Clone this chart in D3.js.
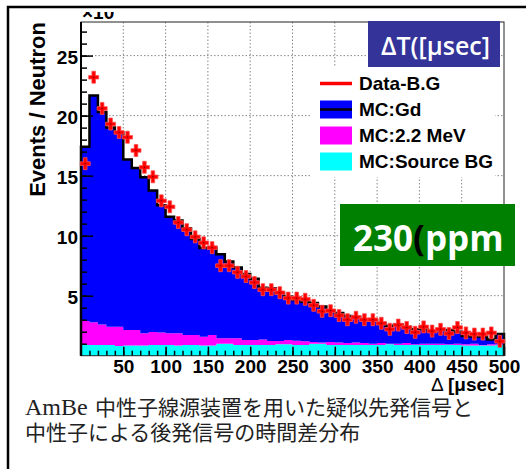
<!DOCTYPE html>
<html>
<head>
<meta charset="utf-8">
<script src="https://cdn.jsdelivr.net/npm/d3@7"></script>
<style>
  body { margin: 0; background: #fff; }
  svg { display: block; font-family: "Liberation Sans", Arial, sans-serif; }
</style>
</head>
<body>
<div id="chart"></div>
<script>
// bins of 10 usec, values in units of 10^-3 events / neutron
const binLow = [0, 10, 20, 30, 40, 50, 60, 70, 80, 90,
  100, 110, 120, 130, 140, 150, 160, 170, 180, 190,
  200, 210, 220, 230, 240, 250, 260, 270, 280, 290,
  300, 310, 320, 330, 340, 350, 360, 370, 380, 390,
  400, 410, 420, 430, 440, 450, 460, 470, 480, 490];
const binWidth = 10;

const dataBG = [16.0, 23.2, 20.6, 19.3, 18.6, 18.2, 17.1, 15.7, 14.9, 12.9,
  12.4, 11.1, 10.5, 9.9, 9.4, 9.0, 7.5, 7.5, 6.95, 6.6,
  6.1, 5.5, 5.5, 5.25, 4.8, 4.8, 4.7, 4.2, 3.7, 3.75,
  3.35, 3.0, 3.2, 3.0, 3.0, 2.7, 2.2, 2.55, 2.35, 1.95,
  2.4, 2.05, 2.2, 1.85, 2.35, 1.9, 1.8, 1.8, 1.9, 1.2];

const mcSourceBG = [0.9, 0.9, 0.9, 0.9, 0.8, 0.85, 0.85, 0.85, 0.9, 0.9,
  0.9, 0.85, 0.9, 0.9, 0.85, 0.85, 1.0, 1.0, 0.9, 0.9,
  0.9, 0.9, 0.9, 0.95, 0.95, 0.9, 0.9, 1.0, 1.0, 0.9,
  0.9, 0.9, 0.9, 0.9, 0.9, 0.9, 0.95, 0.9, 0.9, 0.9,
  0.9, 0.9, 0.9, 0.9, 0.9, 0.85, 0.85, 0.85, 0.85, 0.9];

const mc22MeV = [2.0, 1.88, 1.7, 1.52, 1.62, 1.29, 1.29, 1.02, 1.07, 1.03,
  0.97, 1.02, 0.82, 0.82, 0.73, 0.87, 0.45, 0.45, 0.55, 0.41,
  0.41, 0.46, 0.32, 0.27, 0.36, 0.35, 0.3, 0.15, 0.1, 0.25,
  0.2, 0.15, 0.2, 0.15, 0.1, 0.15, 0.05, 0.1, 0.15, 0.05,
  0.1, 0.1, 0.1, 0.05, 0.1, 0.1, 0.15, 0.05, 0.1, 0.05];

const mcGd = [14.5, 18.9, 17.7, 16.6, 16.2, 14.2, 13.5, 13.0, 11.8, 10.6,
  9.7, 9.4, 8.9, 8.0, 7.4, 7.3, 7.0, 6.4, 5.9, 5.5,
  5.1, 4.3, 4.4, 4.0, 3.6, 3.4, 3.3, 3.25, 3.0, 2.6,
  2.45, 2.25, 2.15, 1.95, 1.95, 1.65, 1.5, 1.6, 1.35, 1.25,
  1.2, 1.05, 1.15, 1.2, 1.0, 0.7, 0.6, 0.7, 0.4, 0.85];

const xTicks = [50, 100, 150, 200, 250, 300, 350, 400, 450, 500];
const xMinorTicks = d3.range(10, 500, 10);
const yTicks = [5, 10, 15, 20, 25];
const yMinorTicks = d3.range(1, 28, 1);

const legendItems = [
  { label: 'Data-B.G', color: '#ff0000', type: 'line' },
  { label: 'MC:Gd', color: '#0000ff', type: 'box', line: true },
  { label: 'MC:2.2 MeV', color: '#ff00ff', type: 'box' },
  { label: 'MC:Source BG', color: '#00ffff', type: 'box' }
];

const W = 526, H = 469;
const plot = { left: 81, top: 22, right: 504, bottom: 355.7 };

const svg = d3.select('#chart')
  .append('svg')
    .attr('width', W)
    .attr('height', H);

// slide frame
svg.append('rect')
  .attr('x', 8).attr('y', 7)
  .attr('width', 700).attr('height', 700)
  .attr('fill', 'none')
  .attr('stroke', '#000')
  .attr('stroke-width', 2.5);

const x = d3.scaleLinear().domain([0, 500]).range([plot.left, plot.right]);
const y = d3.scaleLinear().domain([0, 27.8]).range([plot.bottom, plot.top]);

// grid
const grid = svg.append('g')
  .attr('stroke', '#888')
  .attr('stroke-width', 1)
  .attr('stroke-dasharray', '1.5,2');
grid.selectAll('.gx').data(xTicks.filter(d => d < 500)).join('line')
  .attr('x1', d => x(d)).attr('x2', d => x(d))
  .attr('y1', plot.top).attr('y2', plot.bottom);
grid.selectAll('.gy').data(yTicks).join('line')
  .attr('y1', d => y(d)).attr('y2', d => y(d))
  .attr('x1', plot.left).attr('x2', plot.right);

// stacked MC histograms
const rows = binLow.map((low, i) => ({
  low: low, src: mcSourceBG[i], mev: mc22MeV[i], gd: mcGd[i]
}));
const stack = d3.stack().keys(['src', 'mev', 'gd'])(rows);
const fills = { src: '#00ffff', mev: '#ff00ff', gd: '#0000ff' };

const steps = layer => layer.flatMap(d => [
  { x: d.data.low, y0: d[0], y1: d[1] },
  { x: d.data.low + binWidth, y0: d[0], y1: d[1] }
]);

const area = d3.area()
  .x(d => x(d.x))
  .y0(d => y(d.y0))
  .y1(d => y(d.y1));

svg.append('g').selectAll('path')
  .data(stack)
  .join('path')
    .attr('fill', d => fills[d.key])
    .attr('d', d => area(steps(d)));

const topSteps = steps(stack[2]);
const outline = [{ x: 0, y1: 0 }, ...topSteps, { x: 500, y1: 0 }];
svg.append('path')
  .datum(outline)
  .attr('fill', 'none')
  .attr('stroke', '#000')
  .attr('stroke-width', 2.5)
  .attr('d', d3.line().x(d => x(d.x)).y(d => y(d.y1)));

// axes
const xAxis = svg.append('g')
  .attr('transform', `translate(0,${plot.bottom})`)
  .call(d3.axisBottom(x).tickValues(xTicks).tickSize(-9).tickPadding(4));
svg.append('g')
  .attr('transform', `translate(0,${plot.bottom})`)
  .call(d3.axisBottom(x).tickValues(xMinorTicks).tickSize(-5).tickFormat(''));
const yAxis = svg.append('g')
  .attr('transform', `translate(${plot.left},0)`)
  .call(d3.axisLeft(y).tickValues(yTicks).tickSize(-12).tickPadding(3));
svg.append('g')
  .attr('transform', `translate(${plot.left},0)`)
  .call(d3.axisLeft(y).tickValues(yMinorTicks).tickSize(-6).tickFormat(''));

svg.selectAll('.domain').remove();
svg.selectAll('.tick line').attr('stroke', '#000').attr('stroke-width', 1.5);
svg.selectAll('.tick text')
  .attr('fill', '#000')
  .style('font-family', '"Liberation Sans", Arial, sans-serif')
  .style('font-size', '19px')
  .style('font-weight', 'bold');
yAxis.selectAll('.tick text').attr('dy', '0.4em');

svg.append('rect')
  .attr('x', plot.left).attr('y', plot.top)
  .attr('width', plot.right - plot.left)
  .attr('height', plot.bottom - plot.top)
  .attr('fill', 'none')
  .attr('stroke', '#222')
  .attr('stroke-width', 1);
svg.append('line')
  .attr('x1', plot.left).attr('x2', plot.left)
  .attr('y1', plot.top).attr('y2', plot.bottom)
  .attr('stroke', '#000').attr('stroke-width', 2);

// data points
const cross = 'M-5,-1.8H-1.8V-6H1.8V-1.8H5V1.8H1.8V6H-1.8V1.8H-5Z';
const pts = svg.append('g').selectAll('g')
  .data(binLow.map((low, i) => ({ x: low + binWidth / 2, y: dataBG[i] })))
  .join('g')
    .attr('transform', d => `translate(${x(d.x)},${y(d.y)})`);
pts.append('path')
  .attr('d', cross)
  .attr('fill', '#ff0000')
  .attr('stroke', '#ff5050')
  .attr('stroke-width', 0.8);
pts.append('rect')
  .attr('x', -0.6).attr('y', -0.6)
  .attr('width', 1.2).attr('height', 1.2)
  .attr('fill', '#600');

// exponent, partly hidden at the top
svg.append('clipPath').attr('id', 'expclip')
  .append('rect').attr('x', 0).attr('y', 12).attr('width', 200).attr('height', 10);
svg.append('text')
  .attr('clip-path', 'url(#expclip)')
  .attr('x', 82).attr('y', 18.5)
  .style('font-size', '19px')
  .style('font-weight', 'bold')
  .text('\u00d710');

// axis titles
svg.append('text')
  .attr('transform', 'translate(45,22) rotate(-90)')
  .attr('text-anchor', 'end')
  .style('font-size', '22px')
  .style('font-weight', 'bold')
  .text('Events / Neutron');

const xTitle = svg.append('text')
  .attr('x', 504).attr('y', 391)
  .attr('text-anchor', 'end')
  .style('font-size', '19px')
  .style('font-weight', 'bold');
xTitle.append('tspan').style('font-weight', 'normal').text('\u0394 ');
xTitle.append('tspan').text('[\u03bcsec]');

// legend
const legend = svg.append('g');
legend.append('rect')
  .attr('x', 312).attr('y', 67)
  .attr('width', 183).attr('height', 110)
  .attr('fill', '#fff');
const rowsL = legend.selectAll('g.item')
  .data(legendItems)
  .join('g')
    .attr('transform', (d, i) => `translate(320,${83.5 + i * 26})`);
rowsL.filter(d => d.type === 'line').append('line')
  .attr('x1', 0).attr('x2', 32)
  .attr('stroke', d => d.color)
  .attr('stroke-width', 3.5);
rowsL.filter(d => d.type === 'box').append('rect')
  .attr('x', 0).attr('y', -9)
  .attr('width', 32).attr('height', 18)
  .attr('fill', d => d.color);
rowsL.filter(d => d.line).append('line')
  .attr('x1', 0).attr('x2', 32)
  .attr('stroke', '#000')
  .attr('stroke-width', 2.5);
rowsL.append('text')
  .attr('x', 39).attr('dy', '0.36em')
  .style('font-size', '19px')
  .style('font-weight', 'bold')
  .text(d => d.label);

// annotation boxes
svg.append('rect')
  .attr('x', 368).attr('y', 21)
  .attr('width', 132).attr('height', 46)
  .attr('fill', '#333399');
svg.append('text')
  .attr('x', 381).attr('y', 55)
  .attr('fill', '#fff')
  .style('font-family', '"Open Sans", sans-serif')
  .style('font-size', '25px')
  .style('font-weight', 600)
  .text('\u0394T([\u03bcsec]');

svg.append('rect')
  .attr('x', 340).attr('y', 204)
  .attr('width', 175).attr('height', 62)
  .attr('fill', '#008000');
const ppm = svg.append('text')
  .attr('x', 353).attr('y', 251)
  .attr('fill', '#fff')
  .style('font-family', '"Open Sans", sans-serif')
  .style('font-size', '35px')
  .style('font-weight', 'bold');
ppm.append('tspan').text('230');
ppm.append('tspan').attr('fill', '#000').text('(');
ppm.append('tspan').text('ppm');

// caption
const caption = svg.append('g')
  .attr('fill', '#222')
  .style('font-size', '21px');
const line1 = caption.append('text').attr('x', 25).attr('y', 415);
line1.append('tspan')
  .style('font-family', '"Liberation Serif", serif')
  .style('font-size', '24px')
  .text('AmBe');
line1.append('tspan')
  .attr('x', 95)
  .style('font-family', '"Noto Sans CJK JP", sans-serif')
  .text('中性子線源装置を用いた疑似先発信号と');
caption.append('text')
  .attr('x', 25).attr('y', 440)
  .style('font-family', '"Noto Sans CJK JP", sans-serif')
  .text('中性子による後発信号の時間差分布');
</script>
</body>
</html>
